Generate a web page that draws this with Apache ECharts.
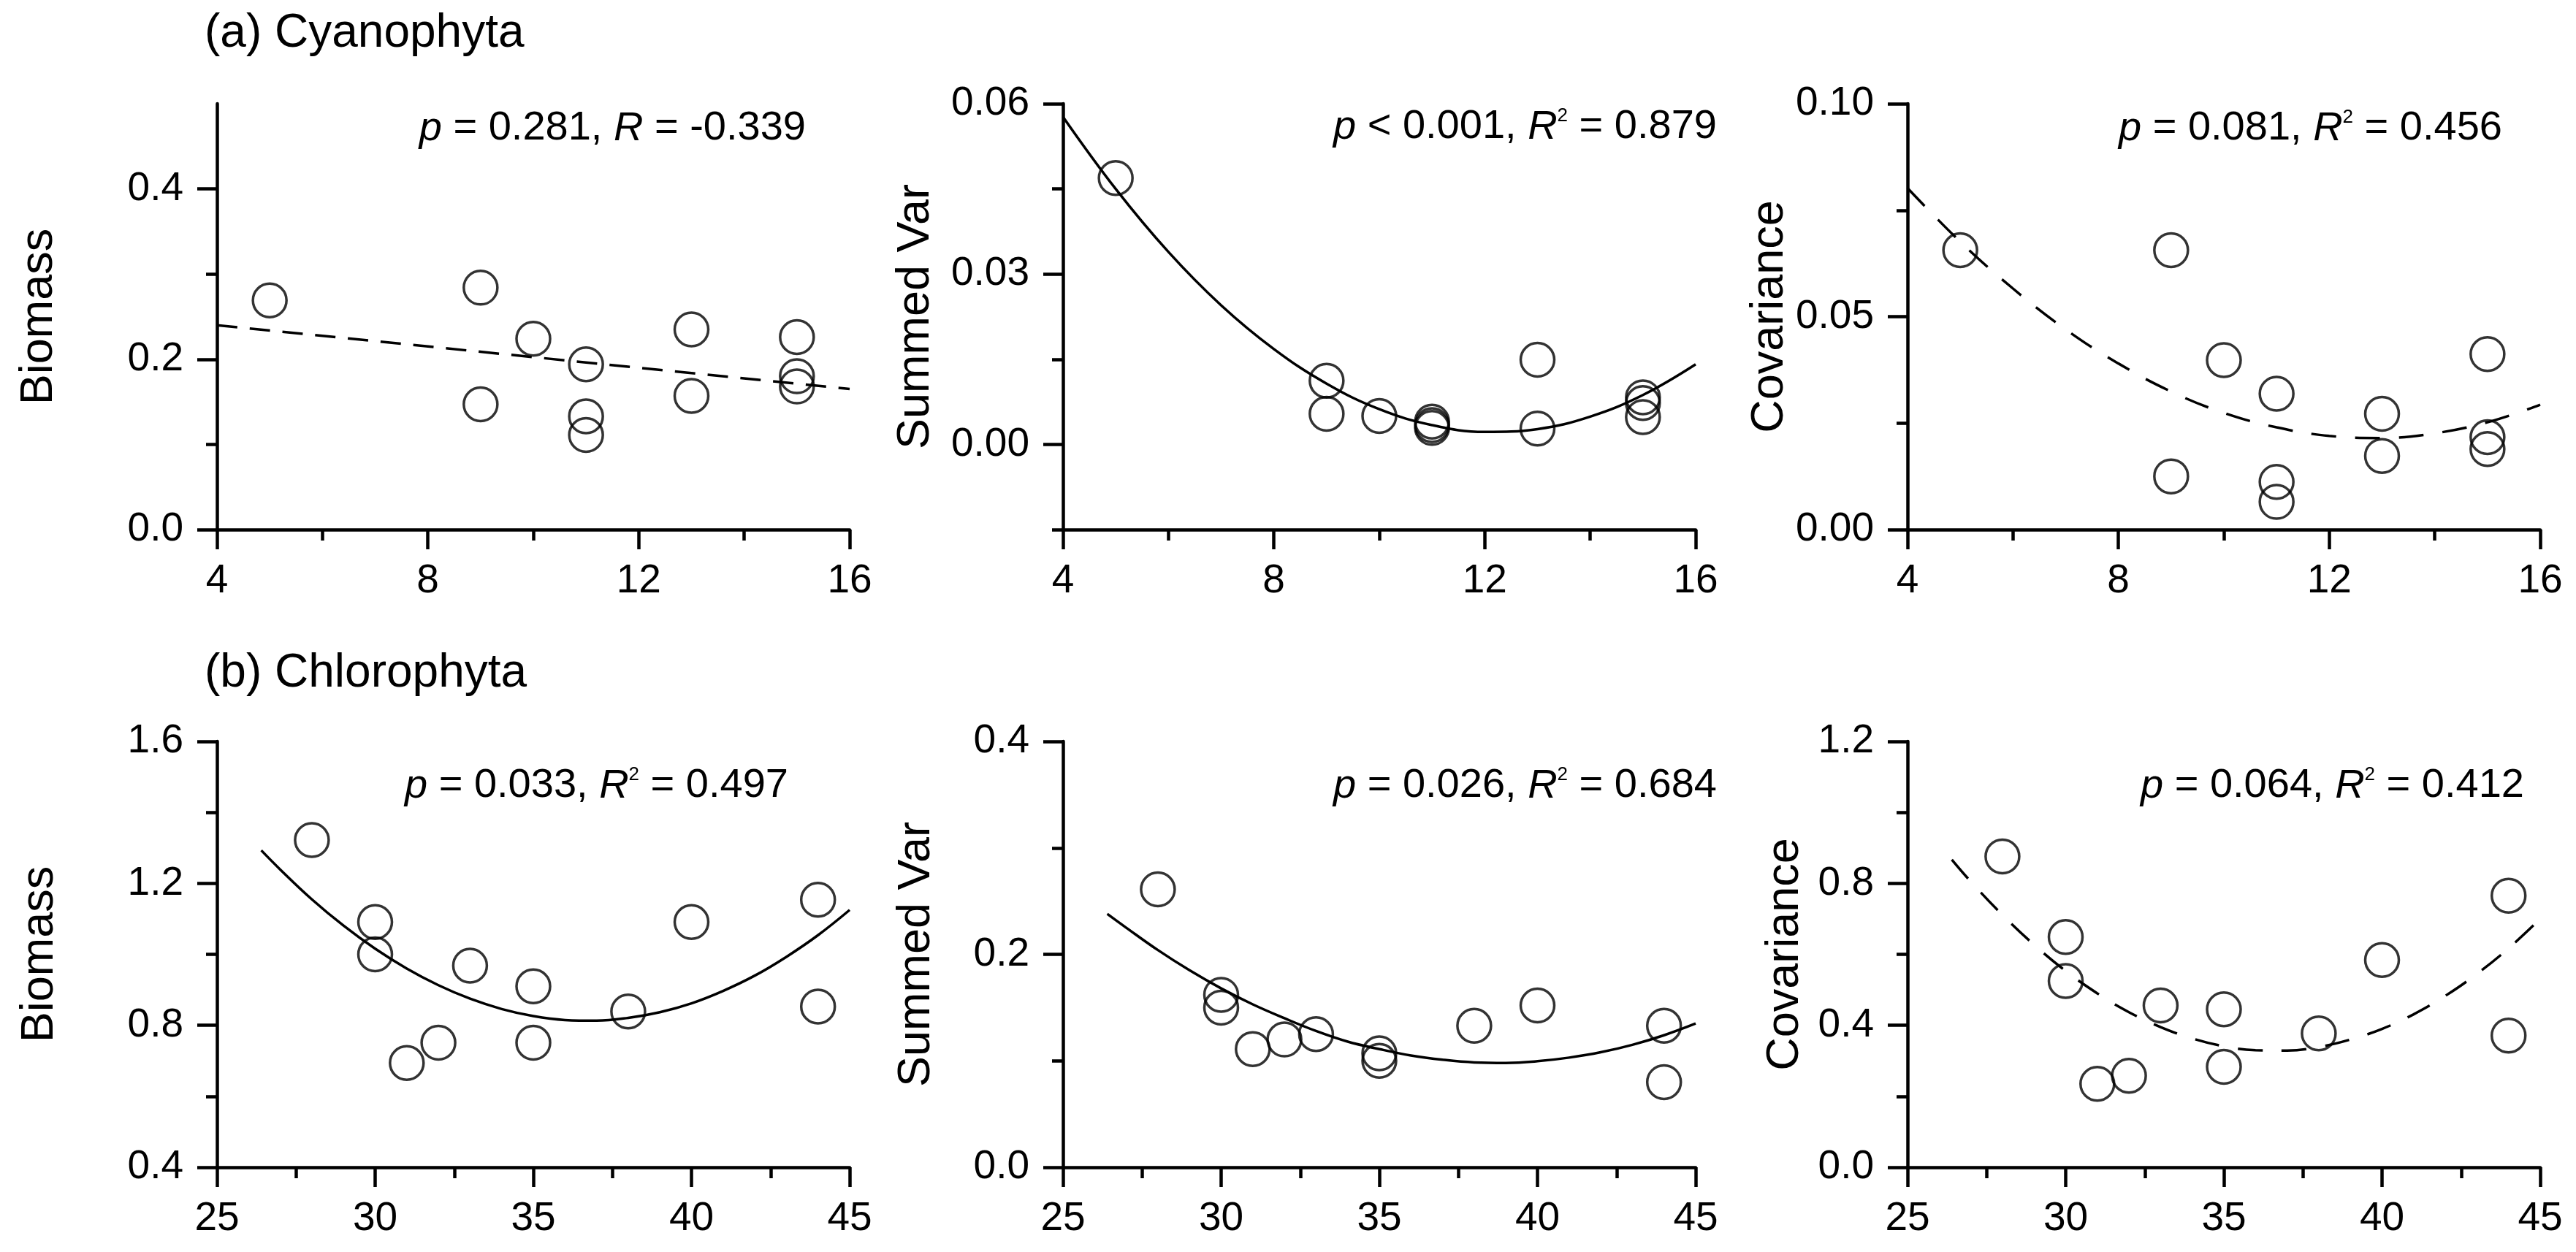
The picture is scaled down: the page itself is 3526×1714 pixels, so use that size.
<!DOCTYPE html>
<html>
<head>
<meta charset="utf-8">
<title>Cyanophyta / Chlorophyta</title>
<script src="https://cdn.jsdelivr.net/npm/echarts@6.0.0/dist/echarts.min.js"></script>
<style>
  html, body { margin: 0; padding: 0; background: #fff; }
  #main { width: 3526px; height: 1714px; }
</style>
</head>
<body>
<div id="main"></div>
<script>
// ---- data ----
// (a) Cyanophyta
var aX = [5, 9, 9, 10, 11, 11, 11, 13, 13, 15, 15, 15];
var a1Biomass = [0.269, 0.284, 0.147, 0.224, 0.194, 0.133, 0.111, 0.235, 0.157, 0.226, 0.180, 0.168];
var a2SummedVar = [0.0469, 0.0112, 0.0054, 0.0050, 0.0040, 0.0034, 0.0029, 0.0149, 0.0028, 0.0083, 0.0073, 0.0048];
var a3Covariance = [0.0656, 0.0656, 0.0125, 0.0398, 0.0319, 0.0112, 0.0065, 0.0272, 0.0173, 0.0412, 0.0217, 0.0189];

// fitted lines
var a1FitX = [4, 16];
var a1FitY = [0.240, 0.165];
var aFitX = [4, 5, 6, 7, 8, 9, 10, 11, 12, 13, 14, 15, 16];
var a2FitY = [0.0577, 0.0450, 0.0339, 0.0245, 0.0168, 0.0107, 0.0062, 0.0034, 0.0022, 0.0027, 0.0049, 0.0087, 0.0141];
var a3FitY = [0.0802, 0.0676, 0.0566, 0.0470, 0.0390, 0.0324, 0.0274, 0.0240, 0.0220, 0.0215, 0.0226, 0.0252, 0.0293];

// (b) Chlorophyta
var bX = [28, 30, 30, 31, 32, 33, 35, 35, 38, 40, 44, 44];
var b1Biomass = [1.322, 1.091, 1.000, 0.694, 0.751, 0.968, 0.910, 0.751, 0.839, 1.091, 1.154, 0.853];
var b2SummedVar = [0.261, 0.162, 0.150, 0.111, 0.120, 0.125, 0.107, 0.100, 0.133, 0.152, 0.133, 0.080];
var b3Covariance = [0.876, 0.649, 0.525, 0.235, 0.258, 0.456, 0.445, 0.283, 0.377, 0.584, 0.765, 0.371];

var bFitX = [26.4, 27, 28, 29, 30, 31, 32, 33, 34, 35, 36, 37, 38, 39, 40, 41, 42, 43, 44, 45];
var b1FitY = [1.293, 1.239, 1.155, 1.081, 1.016, 0.960, 0.913, 0.875, 0.846, 0.826,
              0.815, 0.813, 0.821, 0.837, 0.862, 0.897, 0.940, 0.993, 1.054, 1.125];
var b2FitY = [0.238, 0.225, 0.204, 0.185, 0.168, 0.153, 0.140, 0.128, 0.118, 0.111,
              0.105, 0.101, 0.0985, 0.098, 0.0996, 0.103, 0.108, 0.115, 0.124, 0.135];
var b3FitY = [0.867, 0.805, 0.711, 0.627, 0.553, 0.490, 0.437, 0.395, 0.363, 0.341,
              0.330, 0.329, 0.339, 0.360, 0.390, 0.431, 0.483, 0.545, 0.617, 0.700];

// ---- tick labels ----
var aXTicks = [4, 8, 12, 16];
var aXMinor = [6, 10, 14];
var bXTicks = [25, 30, 35, 40, 45];
var bXMinor = [27.5, 32.5, 37.5, 42.5];
var a1YTicks = [0, 0.2, 0.4];
var a1YMinor = [0.1, 0.3];
var a2YTicks = [0, 0.03, 0.06];
var a2YMinor = [-0.015, 0.015, 0.045];
var a3YTicks = [0, 0.05, 0.1];
var a3YMinor = [0.025, 0.075];
var b1YTicks = [0.4, 0.8, 1.2, 1.6];
var b1YMinor = [0.6, 1.0, 1.4];
var b2YTicks = [0, 0.2, 0.4];
var b2YMinor = [0.1, 0.3];
var b3YTicks = [0, 0.4, 0.8, 1.2];
var b3YMinor = [0.2, 0.6, 1.0];

var FONT = '"Liberation Sans", Arial, sans-serif';
var INK = '#000';

function zip(xs, ys) {
  return xs.map(function (x, i) { return [x, ys[i]]; });
}

// one entry per grid
var panels = [
  { left: 297,  top: 142,  xMin: 4,  xMax: 16, xTicks: aXTicks, xMinor: aXMinor, xDigits: 0,
    yMin: 0, yMax: 0.5, yTicks: a1YTicks, yMinor: a1YMinor, yDigits: 1, name: 'Biomass', nameGap: 212,
    pts: zip(aX, a1Biomass), fit: zip(a1FitX, a1FitY), dash: [28, 17] },
  { left: 1455, top: 142,  xMin: 4,  xMax: 16, xTicks: aXTicks, xMinor: aXMinor, xDigits: 0,
    yMin: -0.015, yMax: 0.06, yTicks: a2YTicks, yMinor: a2YMinor, yDigits: 2, name: 'Summed Var', nameGap: 170,
    pts: zip(aX, a2SummedVar), fit: zip(aFitX, a2FitY), dash: 'solid' },
  { left: 2611, top: 142,  xMin: 4,  xMax: 16, xTicks: aXTicks, xMinor: aXMinor, xDigits: 0,
    yMin: 0, yMax: 0.1, yTicks: a3YTicks, yMinor: a3YMinor, yDigits: 2, name: 'Covariance', nameGap: 149,
    pts: zip(aX, a3Covariance), fit: zip(aFitX, a3FitY), dash: [34, 26] },
  { left: 297,  top: 1015, xMin: 25, xMax: 45, xTicks: bXTicks, xMinor: bXMinor, xDigits: 0,
    yMin: 0.4, yMax: 1.6, yTicks: b1YTicks, yMinor: b1YMinor, yDigits: 1, name: 'Biomass', nameGap: 211,
    pts: zip(bX, b1Biomass), fit: zip(bFitX, b1FitY), dash: 'solid' },
  { left: 1455, top: 1015, xMin: 25, xMax: 45, xTicks: bXTicks, xMinor: bXMinor, xDigits: 0,
    yMin: 0, yMax: 0.4, yTicks: b2YTicks, yMinor: b2YMinor, yDigits: 1, name: 'Summed Var', nameGap: 169,
    pts: zip(bX, b2SummedVar), fit: zip(bFitX, b2FitY), dash: 'solid' },
  { left: 2611, top: 1015, xMin: 25, xMax: 45, xTicks: bXTicks, xMinor: bXMinor, xDigits: 0,
    yMin: 0, yMax: 1.2, yTicks: b3YTicks, yMinor: b3YMinor, yDigits: 1, name: 'Covariance', nameGap: 136,
    pts: zip(bX, b3Covariance), fit: zip(bFitX, b3FitY), dash: [34, 26] }
];

var grids = [], xAxes = [], yAxes = [], series = [];

function mainAxis(p, g, isX) {
  var ticks = isX ? p.xTicks : p.yTicks;
  var digits = isX ? p.xDigits : p.yDigits;
  return {
    type: 'value', gridIndex: g,
    min: isX ? p.xMin : p.yMin, max: isX ? p.xMax : p.yMax,
    position: isX ? 'bottom' : 'left',
    name: isX ? '' : p.name, nameLocation: 'middle', nameGap: isX ? 0 : p.nameGap,
    nameTextStyle: { fontSize: 63, color: INK, fontFamily: FONT },
    axisLine: { show: true, onZero: false, lineStyle: { color: INK, width: 4.5 } },
    axisTick: { show: true, inside: false, length: 27, customValues: ticks,
                lineStyle: { color: INK, width: 4.5 } },
    axisLabel: { show: true, customValues: ticks, margin: isX ? 43 : 46,
                 fontSize: 55, color: INK, fontFamily: FONT,
                 formatter: function (v) { return v.toFixed(digits); } },
    splitLine: { show: false }
  };
}

function minorAxis(p, g, isX) {
  return {
    type: 'value', gridIndex: g,
    min: isX ? p.xMin : p.yMin, max: isX ? p.xMax : p.yMax,
    position: isX ? 'bottom' : 'left',
    axisLine: { show: false, onZero: false },
    axisTick: { show: true, inside: false, length: 15, customValues: isX ? p.xMinor : p.yMinor,
                lineStyle: { color: INK, width: 4.5 } },
    axisLabel: { show: false },
    splitLine: { show: false }
  };
}

panels.forEach(function (p, g) {
  grids.push({ left: p.left, top: p.top, width: 866, height: 583,
               containLabel: false, outerBoundsMode: 'none' });
  xAxes.push(mainAxis(p, g, true), minorAxis(p, g, true));
  yAxes.push(mainAxis(p, g, false), minorAxis(p, g, false));
  series.push({
    type: 'line', xAxisIndex: 2 * g, yAxisIndex: 2 * g,
    data: p.fit, smooth: p.fit.length > 2 ? 0.4 : false,
    showSymbol: false, symbol: 'none', silent: true, z: 2,
    lineStyle: { color: INK, width: 3.5, type: p.dash }
  });
  series.push({
    type: 'scatter', xAxisIndex: 2 * g, yAxisIndex: 2 * g,
    data: p.pts, symbol: 'circle', symbolSize: 46, z: 3,
    itemStyle: { color: 'rgba(0,0,0,0)', borderColor: INK, borderWidth: 3.5 }
  });
});

// panel titles and fit statistics
var rich = {
  i: { fontStyle: 'italic', fontSize: 56, fontFamily: FONT, color: INK },
  n: { fontSize: 56, fontFamily: FONT, color: INK },
  s: { fontSize: 26, fontFamily: FONT, color: INK, verticalAlign: 'top', padding: [0, 0, 26, 0] }
};

function stat(x, y, text) {
  return {
    type: 'text', x: x, y: y, silent: true,
    style: { text: text, rich: rich, align: 'right', verticalAlign: 'middle',
             fontSize: 56, fontFamily: FONT, fill: INK }
  };
}

function heading(x, y, text) {
  return {
    type: 'text', x: x, y: y, silent: true,
    style: { text: text, align: 'left', verticalAlign: 'middle',
             fontSize: 64, fontFamily: FONT, fill: INK }
  };
}

var graphics = [
  heading(280, 46, '(a) Cyanophyta'),
  heading(280, 922, '(b) Chlorophyta'),
  stat(1103, 176, '{i|p}{n| = 0.281, }{i|R}{n| = -0.339}'),
  stat(2350, 174, '{i|p}{n| < 0.001, }{i|R}{s|2}{n| = 0.879}'),
  stat(3425, 176, '{i|p}{n| = 0.081, }{i|R}{s|2}{n| = 0.456}'),
  stat(1079, 1076, '{i|p}{n| = 0.033, }{i|R}{s|2}{n| = 0.497}'),
  stat(2350, 1076, '{i|p}{n| = 0.026, }{i|R}{s|2}{n| = 0.684}'),
  stat(3455, 1076, '{i|p}{n| = 0.064, }{i|R}{s|2}{n| = 0.412}')
];

var myChart = echarts.init(document.getElementById('main'));
myChart.setOption({
  backgroundColor: '#fff',
  animation: false,
  grid: grids,
  xAxis: xAxes,
  yAxis: yAxes,
  series: series,
  graphic: graphics
});
</script>
</body>
</html>
